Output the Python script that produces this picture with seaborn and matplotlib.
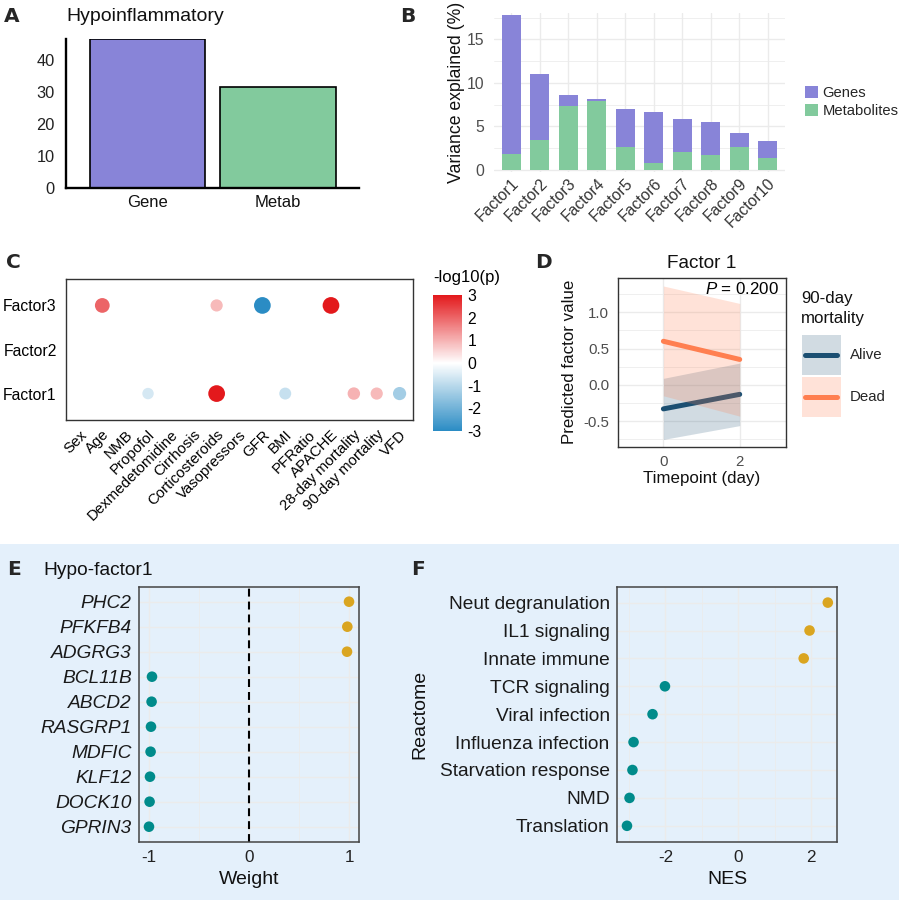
import numpy as np
import pandas as pd
import matplotlib
matplotlib.use('Agg')
import matplotlib.pyplot as plt
import seaborn as sns
from matplotlib.colors import LinearSegmentedColormap, Normalize
from matplotlib.patches import Patch, Rectangle
from matplotlib.lines import Line2D
from matplotlib.cm import ScalarMappable
from matplotlib.legend_handler import HandlerBase

# ---- data ----
# A: variance explained per view (hypoinflammatory)
omics_views = ['Gene', 'Metab']
omics_total = [46.3, 31.6]

# B: variance explained per factor
factors = ['Factor1', 'Factor2', 'Factor3', 'Factor4', 'Factor5',
           'Factor6', 'Factor7', 'Factor8', 'Factor9', 'Factor10']
var_genes = [15.96, 7.56, 1.30, 0.23, 4.40, 5.89, 3.79, 3.83, 1.64, 1.91]
var_metab = [1.84, 3.44, 7.35, 7.96, 2.64, 0.77, 2.03, 1.68, 2.64, 1.38]

# C: factor / clinical covariate associations (signed -log10 p)
covariates = ['Sex', 'Age', 'NMB', 'Propofol', 'Dexmedetomidine', 'Cirrhosis',
              'Corticosteroids', 'Vasopressors', 'GFR', 'BMI', 'PFRatio', 'APACHE',
              '28-day mortality', '90-day mortality', 'VFD']
heat_factors = ['Factor1', 'Factor2', 'Factor3']
assoc_factor = ['Factor3', 'Factor3', 'Factor3', 'Factor3',
                'Factor1', 'Factor1', 'Factor1', 'Factor1', 'Factor1', 'Factor1']
assoc_covariate = ['Age', 'Corticosteroids', 'GFR', 'APACHE',
                   'Propofol', 'Corticosteroids', 'BMI', '28-day mortality',
                   '90-day mortality', 'VFD']
assoc_logp = [2.0, 0.9, -3.0, 3.0, -0.6, 3.0, -0.8, 1.0, 0.9, -1.3]

# D: predicted factor 1 by 90-day mortality
timepoints = [0, 2]
alive_fit = [-0.33, -0.13]
alive_lo = [-0.75, -0.56]
alive_hi = [0.09, 0.30]
dead_fit = [0.60, 0.35]
dead_lo = [-0.15, -0.43]
dead_hi = [1.36, 1.12]

# E: top weights hypo-factor1
genes = ['PHC2', 'PFKFB4', 'ADGRG3', 'BCL11B', 'ABCD2', 'RASGRP1',
         'MDFIC', 'KLF12', 'DOCK10', 'GPRIN3']
gene_weight = [1.0, 0.983, 0.98, -0.973, -0.977, -0.983, -0.987, -0.993, -0.997, -1.003]

# F: reactome NES
pathways = ['Neut degranulation', 'IL1 signaling', 'Innate immune', 'TCR signaling',
            'Viral infection', 'Influenza infection', 'Starvation response', 'NMD',
            'Translation']
pathway_nes = [2.45, 1.95, 1.79, -2.01, -2.35, -2.87, -2.90, -2.98, -3.05]

# ---- style ----
PURPLE = '#8884d8'
GREEN = '#82ca9d'
GOLD = '#DAA520'
TEAL = '#008B8B'
NAVY = '#1B4F72'
CORAL = '#FF7F50'
GRID = '#EBEBEB'
BORDER = '#333333'

sns.set_style('white')
plt.rcParams['font.family'] = ['Liberation Sans', 'DejaVu Sans']
plt.rcParams['axes.unicode_minus'] = False
plt.rcParams['mathtext.fontset'] = 'custom'
plt.rcParams['mathtext.it'] = 'Liberation Sans:italic'
plt.rcParams['mathtext.rm'] = 'Liberation Sans'

W, H = 899, 900
fig = plt.figure(figsize=(W / 100, H / 100), dpi=100)


def add_ax(l, t, r, b):
    return fig.add_axes([l / W, 1 - b / H, (r - l) / W, (b - t) / H])


def ftext(x, y, s, **kw):
    return fig.text(x / W, 1 - y / H, s, **kw)


def label_at(ax, rect, which, text, cx, cy, **kw):
    # put axis label centred on a pixel position
    l, t, r, b = rect
    ax_x = (cx - l) / (r - l)
    ax_y = (b - cy) / (b - t)
    if which == 'x':
        ax.set_xlabel(text, **kw)
        ax.xaxis.set_label_coords(ax_x, ax_y)
        ax.xaxis.label.set_verticalalignment('center')
    else:
        ax.set_ylabel(text, **kw)
        ax.yaxis.set_label_coords(ax_x, ax_y)
        ax.yaxis.label.set_verticalalignment('center')


class RibbonKey:
    def __init__(self, color, alpha):
        self.color = color
        self.alpha = alpha


class RibbonHandler(HandlerBase):
    # ggplot-like key: filled ribbon square with the fit line across
    def create_artists(self, legend, orig_handle, xdescent, ydescent, width, height,
                       fontsize, trans):
        x0, y0 = -xdescent, -ydescent
        box = Rectangle((x0, y0), width, height, facecolor=orig_handle.color,
                        alpha=orig_handle.alpha, edgecolor='none', transform=trans)
        line = Line2D([x0 + 0.1 * width, x0 + 0.9 * width], [y0 + height / 2] * 2,
                      color=orig_handle.color, linewidth=3.6, transform=trans)
        return [box, line]


# blue background for lower panels
fig.patches.append(Rectangle((0, 0), 1, 1 - 544 / H, transform=fig.transFigure,
                             facecolor='#E4F0FB', edgecolor='none', zorder=-10))

# panel letters
for letter, x, y in [('A', 4, 21.5), ('B', 400, 21.5), ('C', 6, 268), ('D', 535, 268),
                     ('E', 7, 575), ('F', 411, 575)]:
    ftext(x, y, letter, fontsize=14.5, fontweight='bold', family='DejaVu Sans',
          va='baseline', ha='left')

# ---- A ----
rect_a = (65.7, 39.3, 359.3, 188.3)
ax_a = add_ax(*rect_a)
sns.barplot(x=omics_views, y=omics_total, hue=omics_views, palette=[PURPLE, GREEN],
            legend=False, edgecolor='black', linewidth=1.2, width=0.886,
            saturation=1, ax=ax_a)
ax_a.set_xlim(-0.628, 1.625)
ax_a.set_ylim(0, 46.3)
ax_a.set_yticks([0, 10, 20, 30, 40])
ax_a.set_xlabel('')
ax_a.set_ylabel('')
for s in ['top', 'right']:
    ax_a.spines[s].set_visible(False)
for s in ['left', 'bottom']:
    ax_a.spines[s].set_linewidth(1.7)
    ax_a.spines[s].set_color('black')
ax_a.tick_params(axis='y', length=4.3, width=1.0, pad=3.5, labelsize=11.8, colors='#222222')
ax_a.tick_params(axis='x', length=0, pad=5, labelsize=12, labelcolor='#111111')
ax_a.set_facecolor('none')
ftext(66.7, 20.7, 'Hypoinflammatory', fontsize=14, va='baseline', color='#111111')

# ---- B ----
rect_b = (494.2, 13.3, 784.8, 171.5)
ax_b = add_ax(*rect_b)
var_total = np.array(var_genes) + np.array(var_metab)
sns.barplot(x=factors, y=var_total, color=PURPLE, width=0.68, saturation=1,
            linewidth=0, ax=ax_b)
sns.barplot(x=factors, y=var_metab, color=GREEN, width=0.68, saturation=1,
            linewidth=0, ax=ax_b)
ax_b.set_xlim(-0.6, 9.6)
ax_b.set_ylim(-0.17, 17.99)
ax_b.set_yticks([0, 5, 10, 15])
ax_b.set_yticks([2.5, 7.5, 12.5, 17.5], minor=True)
ax_b.set_axisbelow(True)
ax_b.grid(True, which='major', color=GRID, linewidth=1.0)
ax_b.grid(True, which='minor', axis='y', color=GRID, linewidth=0.55)
for s in ax_b.spines.values():
    s.set_visible(False)
ax_b.tick_params(axis='y', which='both', length=0, pad=7, labelsize=11.3, labelcolor='#4D4D4D')
ax_b.tick_params(axis='x', length=0, pad=3, labelsize=11.3, labelcolor='#333333')
plt.setp(ax_b.get_xticklabels(), rotation=45, ha='right', rotation_mode='anchor')
label_at(ax_b, rect_b, 'y', 'Variance explained (%)', 456.7, 92.4, fontsize=12.7,
         color='#111111')
ax_b.set_xlabel('')
leg_b = fig.legend(handles=[Patch(facecolor=PURPLE, edgecolor='none', label='Genes'),
                            Patch(facecolor=GREEN, edgecolor='none', label='Metabolites')],
                   loc='upper left', bbox_to_anchor=(805 / W, 1 - 86 / H), frameon=False,
                   fontsize=10.6, handlelength=0.85, handleheight=0.85, handletextpad=0.35,
                   labelspacing=0.3, borderpad=0, borderaxespad=0)

# ---- C ----
rect_c = (65.7, 279, 413.3, 420)
ax_c = add_ax(*rect_c)
df_c = pd.DataFrame({'factor': assoc_factor, 'covariate': assoc_covariate,
                     'logp': assoc_logp})
df_c['xpos'] = [covariates.index(c) for c in df_c['covariate']]
df_c['ypos'] = [heat_factors.index(f) for f in df_c['factor']]
df_c['strength'] = df_c['logp'].abs()
cmap_c = LinearSegmentedColormap.from_list('rdwb', ['#2B8CC4', '#FFFFFF', '#E3191C'])
sns.scatterplot(data=df_c, x='xpos', y='ypos', hue='logp', palette=cmap_c,
                hue_norm=(-3, 3), size='strength', sizes=(48, 145), size_norm=(0, 3),
                linewidth=0, legend=False, ax=ax_c)
ax_c.set_xlim(-0.6, 14.6)
ax_c.set_ylim(-0.6, 2.6)
ax_c.set_xticks(range(len(covariates)))
ax_c.set_xticklabels(covariates)
ax_c.set_yticks(range(len(heat_factors)))
ax_c.set_yticklabels(heat_factors)
ax_c.set_xlabel('')
ax_c.set_ylabel('')
for s in ax_c.spines.values():
    s.set_color(BORDER)
    s.set_linewidth(1.0)
ax_c.tick_params(axis='both', length=3.5, width=0.8, color=BORDER, labelcolor='black')
ax_c.tick_params(axis='y', labelsize=11.3, pad=3)
ax_c.tick_params(axis='x', labelsize=10.8, pad=2)
plt.setp(ax_c.get_xticklabels(), rotation=45, ha='right', rotation_mode='anchor')

cax = add_ax(433, 295, 461.7, 431)
cb = fig.colorbar(ScalarMappable(norm=Normalize(-3, 3), cmap=cmap_c), cax=cax,
                  ticks=[-3, -2, -1, 0, 1, 2, 3])
cb.outline.set_visible(False)
cax.tick_params(axis='y', direction='in', color='white', length=5, width=0.8,
                labelsize=11.3, labelcolor='black', pad=4)
ftext(433, 282, '-log10(p)', fontsize=12, va='baseline', color='black')

# ---- D ----
rect_d = (617.6, 278, 785.5, 446.7)
ax_d = add_ax(*rect_d)
df_d = pd.DataFrame({'time': timepoints * 2,
                     'fit': alive_fit + dead_fit,
                     'status': ['Alive'] * 2 + ['Dead'] * 2})
sns.lineplot(data=df_d, x='time', y='fit', hue='status',
             palette={'Alive': NAVY, 'Dead': CORAL}, linewidth=3.6,
             legend=False, ax=ax_d, zorder=3)
ax_d.fill_between(timepoints, alive_lo, alive_hi, color=NAVY, alpha=0.2,
                  linewidth=0, zorder=4)
ax_d.fill_between(timepoints, dead_lo, dead_hi, color=CORAL, alpha=0.22,
                  linewidth=0, zorder=4)
ax_d.set_xlim(-1.2, 3.2)
ax_d.set_ylim(-0.85, 1.47)
ax_d.set_xticks([0, 2])
ax_d.set_yticks([-0.5, 0.0, 0.5, 1.0])
ax_d.set_yticklabels(['-0.5', '0.0', '0.5', '1.0'])
ax_d.set_yticks([-0.75, -0.25, 0.25, 0.75, 1.25], minor=True)
ax_d.set_axisbelow(True)
ax_d.grid(True, which='major', color=GRID, linewidth=1.0)
ax_d.grid(True, which='minor', axis='y', color=GRID, linewidth=0.55)
for s in ax_d.spines.values():
    s.set_color(BORDER)
    s.set_linewidth(1.0)
ax_d.tick_params(axis='both', which='major', length=3.5, width=0.8, color=BORDER,
                 labelsize=10.8, labelcolor='#4D4D4D', pad=2.5)
ax_d.tick_params(axis='y', which='minor', length=0)
label_at(ax_d, rect_d, 'x', 'Timepoint (day)', 701.5, 478.5, fontsize=12.2, color='#111111')
label_at(ax_d, rect_d, 'y', 'Predicted factor value', 569, 362.3, fontsize=12.2,
         color='#111111')
ftext(701.5, 268.5, 'Factor 1', fontsize=13.7, ha='center', va='baseline', color='#111111')
ax_d.text(0.9595, 0.905, r'$\it{P}$ = 0.200', transform=ax_d.transAxes, ha='right',
          va='baseline', fontsize=12.2, color='black', zorder=6)
# legend title placed on its own so the gap to the keys matches ggplot
ftext(801, 299, '90-day', fontsize=12.2, va='center', ha='left', color='#111111')
ftext(801, 319, 'mortality', fontsize=12.2, va='center', ha='left', color='#111111')
leg_d = fig.legend(
    handles=[RibbonKey(NAVY, 0.2), RibbonKey(CORAL, 0.22)],
    labels=['Alive', 'Dead'], handler_map={RibbonKey: RibbonHandler()},
    loc='upper left', bbox_to_anchor=(801.5 / W, 1 - 335 / H),
    frameon=False, fontsize=10.8, handlelength=2.65, handleheight=3.73,
    handletextpad=0.55, labelspacing=0.1, borderpad=0, borderaxespad=0)

# ---- E ----
rect_e = (139.3, 586.7, 359, 841.7)
ax_e = add_ax(*rect_e)
df_e = pd.DataFrame({'gene': genes, 'weight': gene_weight})
df_e['sign'] = np.where(df_e['weight'] > 0, 'pos', 'neg')
ax_e.axvline(0, color='black', linewidth=1.5, linestyle=(0, (3.8, 2.4)), zorder=2)
sns.scatterplot(data=df_e, x='weight', y='gene', hue='sign',
                palette={'pos': GOLD, 'neg': TEAL}, s=58, linewidth=0,
                legend=False, ax=ax_e, zorder=3)
ax_e.set_xlim(-1.1, 1.1)
ax_e.set_ylim(len(genes) - 0.4, -0.6)
ax_e.set_xticks([-1, 0, 1])
ax_e.set_xticks([-0.5, 0.5], minor=True)
ax_e.set_facecolor('none')
ax_e.set_axisbelow(True)
ax_e.grid(True, which='major', color=GRID, linewidth=1.0)
ax_e.grid(True, which='minor', axis='x', color=GRID, linewidth=0.55)
for s in ax_e.spines.values():
    s.set_color('#444444')
    s.set_linewidth(1.1)
ax_e.tick_params(axis='both', which='major', length=3.5, width=0.8, color=BORDER)
ax_e.tick_params(axis='x', which='minor', length=0)
ax_e.tick_params(axis='y', labelsize=13.8, labelcolor='#1A1A1A', pad=2)
ax_e.tick_params(axis='x', labelsize=12.3, labelcolor='#222222', pad=2.5)
plt.setp(ax_e.get_yticklabels(), fontstyle='italic')
ax_e.set_ylabel('')
label_at(ax_e, rect_e, 'x', 'Weight', 249.3, 880, fontsize=14, color='#111111')
ftext(43.3, 574.7, 'Hypo-factor1', fontsize=13.8, va='baseline', color='#111111')

# ---- F ----
rect_f = (617.3, 586.7, 837.3, 841.7)
ax_f = add_ax(*rect_f)
df_f = pd.DataFrame({'pathway': pathways, 'nes': pathway_nes})
df_f['sign'] = np.where(df_f['nes'] > 0, 'pos', 'neg')
sns.scatterplot(data=df_f, x='nes', y='pathway', hue='sign',
                palette={'pos': GOLD, 'neg': TEAL}, s=58, linewidth=0,
                legend=False, ax=ax_f, zorder=3)
ax_f.set_xlim(-3.315, 2.71)
ax_f.set_ylim(len(pathways) - 0.43, -0.57)
ax_f.set_xticks([-2, 0, 2])
ax_f.set_xticks([-3, -1, 1], minor=True)
ax_f.set_facecolor('none')
ax_f.set_axisbelow(True)
ax_f.grid(True, which='major', color=GRID, linewidth=1.0)
ax_f.grid(True, which='minor', axis='x', color=GRID, linewidth=0.55)
for s in ax_f.spines.values():
    s.set_color('#444444')
    s.set_linewidth(1.1)
ax_f.tick_params(axis='both', which='major', length=3.5, width=0.8, color=BORDER)
ax_f.tick_params(axis='x', which='minor', length=0)
ax_f.tick_params(axis='y', labelsize=13.8, labelcolor='#1A1A1A', pad=2)
ax_f.tick_params(axis='x', labelsize=12.3, labelcolor='#222222', pad=2.5)
label_at(ax_f, rect_f, 'x', 'NES', 727.3, 880, fontsize=14, color='#111111')
label_at(ax_f, rect_f, 'y', 'Reactome', 420, 714.2, fontsize=14, color='#111111')

fig.savefig('out.png', dpi=100)
